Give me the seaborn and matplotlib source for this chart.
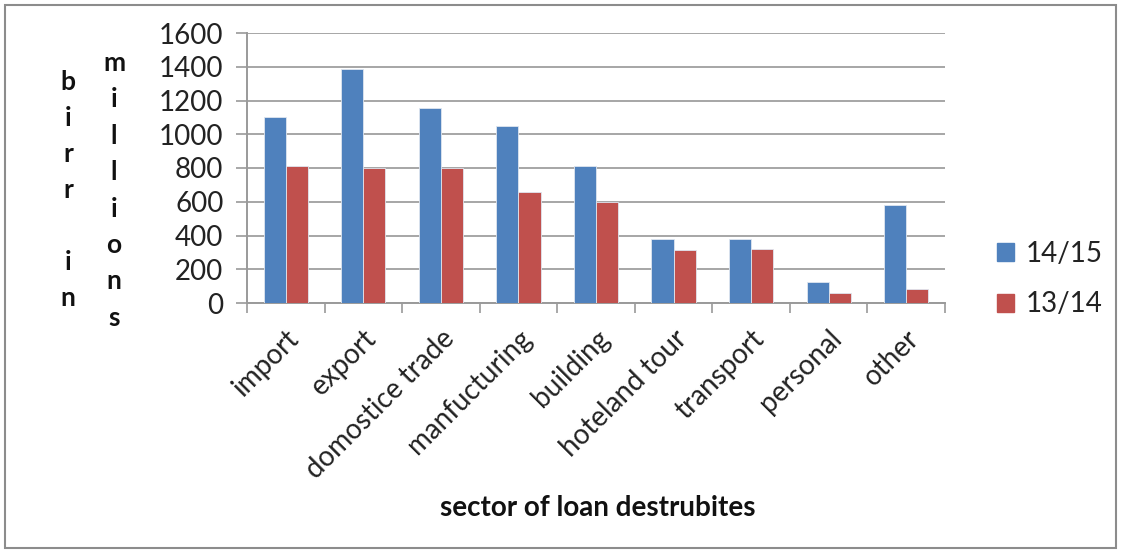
import matplotlib
matplotlib.use("Agg")
import matplotlib.pyplot as plt
from matplotlib.patches import Rectangle, Patch
import seaborn as sns
import pandas as pd

sectors = ["import", "export", "domostice trade", "manfucturing", "building",
           "hoteland tour", "transport", "personal", "other"]
loans_1415 = [1100, 1385, 1155, 1050, 810, 380, 380, 125, 580]
loans_1314 = [810, 800, 800, 660, 600, 315, 320, 60, 85]
series_names = ["14/15", "13/14"]
yticks = [0, 200, 400, 600, 800, 1000, 1200, 1400, 1600]

df = pd.DataFrame({
    "sector": sectors * 2,
    "value": loans_1415 + loans_1314,
    "year": [series_names[0]] * len(sectors) + [series_names[1]] * len(sectors),
})

sns.set_theme(style="white")
plt.rcParams["font.family"] = ["Lato", "DejaVu Sans"]

W, H = 1121, 553
fig = plt.figure(figsize=(W / 100, H / 100), dpi=100)
ax = fig.add_axes([247 / W, 1 - 303 / H, (945 - 247) / W, (303 - 33) / H])

blue, red = "#4F81BD", "#C0504D"
sns.barplot(data=df, x="sector", y="value", hue="year", order=sectors,
            hue_order=series_names, palette=[blue, red], saturation=1,
            width=0.57, gap=0, edgecolor="#dfe6f0", linewidth=0.6, ax=ax,
            legend=False, zorder=3)

ax.set_ylim(0, 1600)
ax.set_xlim(-0.5, len(sectors) - 0.5)
ax.set_yticks(yticks)
ax.set_yticklabels([str(v) for v in yticks], fontsize=20, color="#222222")
ax.yaxis.grid(True, color="#a6a6a6", linewidth=1.4, zorder=0)
ax.set_axisbelow(True)

ax.set_xticks(range(len(sectors)))
ax.set_xticklabels(sectors, rotation=45, ha="right", rotation_mode="anchor",
                   fontsize=20, color="#222222")
ax.tick_params(axis="x", which="major", length=0, pad=16)
ax.set_xticks([i - 0.5 for i in range(len(sectors) + 1)], minor=True)
ax.tick_params(axis="x", which="minor", length=7, width=1.2, color="#9a9a9a",
               direction="out", bottom=True)
ax.tick_params(axis="y", length=8, width=1.2, color="#9a9a9a", direction="out",
               left=True, pad=9)

for side in ["top", "right"]:
    ax.spines[side].set_visible(False)
for side in ["left", "bottom"]:
    ax.spines[side].set_color("#9a9a9a")
    ax.spines[side].set_linewidth(1.4)

ax.set_xlabel("")
ax.set_ylabel("")

fig.text(598 / W, 1 - 508 / H, "sector of loan destrubites", ha="center",
         va="center", fontsize=20, fontweight="bold", color="#111111")

# vertical stacked axis titles
birr = ["b", "i", "r", "r", "", "i", "n"]
for k, ch in enumerate(birr):
    fig.text(68 / W, 1 - (82 + 36 * k) / H, ch, ha="center", va="center",
             fontsize=19, fontweight="bold", color="#111111")
millions = list("millions")
for k, ch in enumerate(millions):
    fig.text(114 / W, 1 - (63 + 36.4 * k) / H, ch, ha="center", va="center",
             fontsize=19, fontweight="bold", color="#111111")

handles = [Patch(facecolor=blue, edgecolor=blue), Patch(facecolor=red, edgecolor=red)]
fig.legend(handles, series_names, loc="center left",
           bbox_to_anchor=(972 / W, 1 - 279 / H), frameon=False, fontsize=20,
           handlelength=0.6, handleheight=0.6, handletextpad=0.45,
           labelspacing=0.9, labelcolor="#222222")

fig.patches.append(Rectangle((5 / W, 5 / H), 1 - 10 / W, 1 - 10 / H,
                             transform=fig.transFigure, fill=False,
                             edgecolor="#8c8c8c", linewidth=1.5))

fig.savefig("out.png", dpi=100)
